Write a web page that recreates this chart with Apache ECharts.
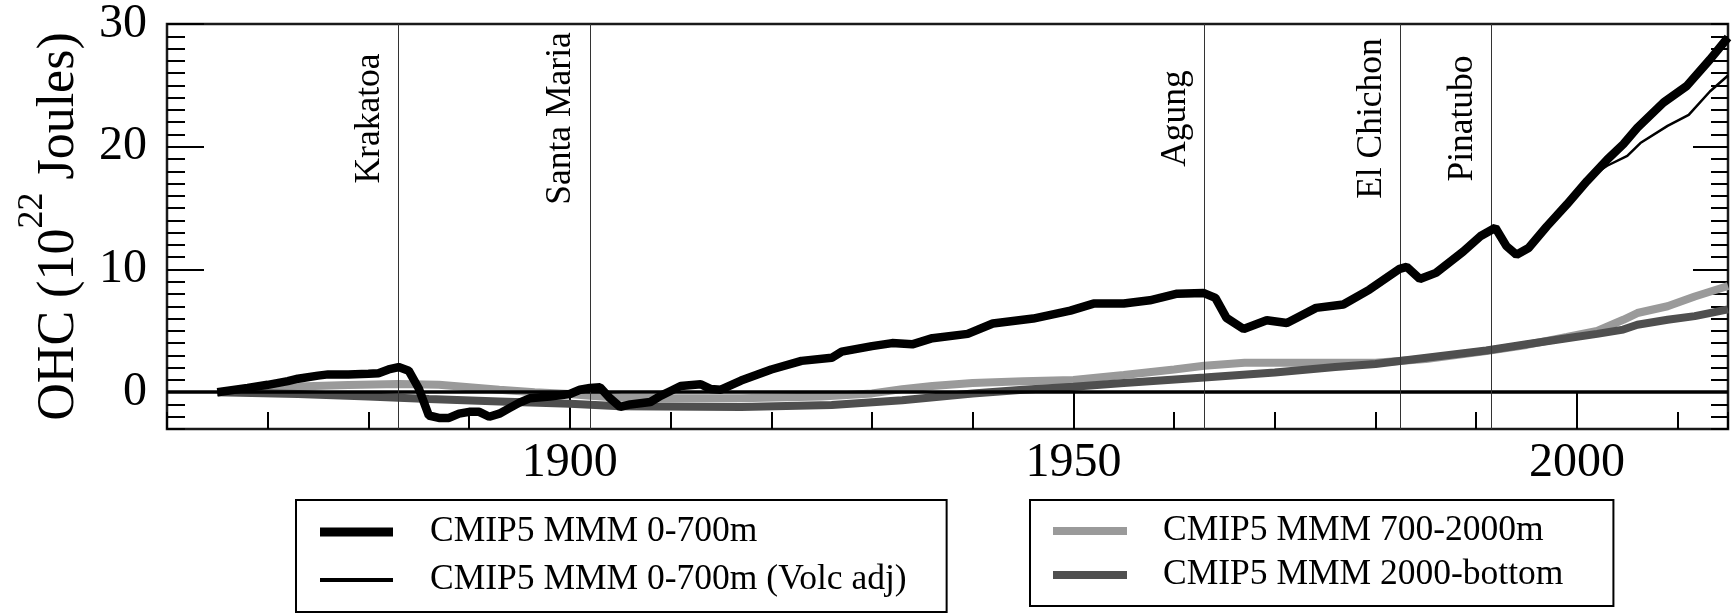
<!DOCTYPE html>
<html>
<head>
<meta charset="utf-8">
<script src="https://cdn.jsdelivr.net/npm/echarts@6/dist/echarts.min.js"></script>
<style>html,body{margin:0;padding:0;background:#fff;}#c{width:1735px;height:613px;}</style>
</head>
<body>
<div id="c"></div>
<script>
// ---- data ----
const seriesNames = ['CMIP5 MMM 0-700m', 'CMIP5 MMM 0-700m (Volc adj)', 'CMIP5 MMM 700-2000m', 'CMIP5 MMM 2000-bottom'];

const years700 = [1865,1868,1870,1872,1873,1875,1876,1878,1880,1881,1882,1883,1884,1885,1886,1887,1888,1889,1890,1891,1892,1893,1894,1895,1896,1898,1900,1901,1902,1903,1904,1905,1906,1908,1909,1910,1911,1913,1914,1915,1917,1920,1923,1926,1927,1930,1932,1934,1936,1939.5,1942,1946,1949.7,1952,1955,1957.6,1960.3,1962.9,1964.1,1965.2,1966.9,1969.2,1971.2,1974.1,1976.8,1979.4,1982.4,1983.1,1984.4,1986,1988.7,1990.4,1991.9,1993,1994,1995.2,1997,1999,2001,2003,2004.6,2006,2008.6,2010.9,2013.2,2015];
const values700 = [0,0.35,0.6,0.9,1.1,1.35,1.45,1.45,1.5,1.55,1.85,2.05,1.75,0.3,-1.9,-2.1,-2.1,-1.75,-1.6,-1.6,-2.0,-1.75,-1.3,-0.85,-0.5,-0.35,-0.15,0.2,0.35,0.4,-0.5,-1.2,-1.0,-0.8,-0.3,0.1,0.5,0.65,0.25,0.2,0.95,1.85,2.55,2.8,3.3,3.75,4.0,3.9,4.4,4.75,5.6,6.0,6.65,7.22,7.22,7.49,8.03,8.09,7.68,6.05,5.15,5.86,5.64,6.87,7.14,8.36,10.05,10.21,9.23,9.72,11.45,12.7,13.4,11.9,11.2,11.75,13.5,15.3,17.2,18.95,20.2,21.55,23.6,24.95,27.1,28.9];

const yearsVolc = [1865,1868,1870,1872,1873,1875,1876,1878,1880,1881,1882,1883,1884,1885,1886,1887,1888,1889,1890,1891,1892,1893,1894,1895,1896,1898,1900,1901,1902,1903,1904,1905,1906,1908,1909,1910,1911,1913,1914,1915,1917,1920,1923,1926,1927,1930,1932,1934,1936,1939.5,1942,1946,1949.7,1952,1955,1957.6,1960.3,1962.9,1964.1,1965.2,1966.9,1969.2,1971.2,1974.1,1976.8,1979.4,1982.4,1983.1,1984.4,1986,1988.7,1990.4,1991.9,1993,1994,1995.2,1997,1999,2001,2001.7,2003,2005,2006.3,2009,2011.1,2013.2,2015];
const valuesVolc = [0,0.35,0.6,0.9,1.1,1.35,1.45,1.45,1.5,1.55,1.85,2.05,1.75,0.3,-1.9,-2.1,-2.1,-1.75,-1.6,-1.6,-2.0,-1.75,-1.3,-0.85,-0.5,-0.35,-0.15,0.2,0.35,0.4,-0.5,-1.2,-1.0,-0.8,-0.3,0.1,0.5,0.65,0.25,0.2,0.95,1.85,2.55,2.8,3.3,3.75,4.0,3.9,4.4,4.75,5.6,6.0,6.65,7.22,7.22,7.49,8.03,8.09,7.68,6.05,5.15,5.86,5.64,6.87,7.14,8.36,10.05,10.21,9.23,9.72,11.45,12.7,13.4,11.9,11.2,11.75,13.5,15.3,17.2,17.75,18.45,19.25,20.3,21.7,22.6,24.5,25.8];

const years2000 = [1865,1870,1873,1878,1883,1887,1890,1893,1896.5,1900,1902,1905,1910,1917,1925,1930,1933,1936,1940,1945,1950,1955,1960,1963,1967,1971,1976,1980,1985,1991,1995,1999,2002,2004.6,2006,2009,2011.7,2015];
const values2000 = [0,0.3,0.47,0.58,0.67,0.6,0.4,0.2,0,-0.15,-0.3,-0.45,-0.5,-0.5,-0.35,-0.1,0.25,0.5,0.75,0.9,1.0,1.4,1.85,2.15,2.4,2.4,2.4,2.4,2.7,3.35,3.85,4.5,5.0,5.9,6.45,7.0,7.8,8.65];

const yearsBottom = [1865,1873,1880,1886,1893,1900,1905,1917,1926,1933,1940,1945,1950,1955,1963,1970,1976,1980,1982,1991,1995,1999,2002,2004.6,2006,2009,2011.7,2015];
const valuesBottom = [0,-0.15,-0.35,-0.55,-0.75,-0.95,-1.15,-1.2,-1.05,-0.65,-0.1,0.2,0.45,0.75,1.2,1.6,2.05,2.3,2.5,3.4,3.9,4.4,4.75,5.1,5.5,5.9,6.2,6.75];

const volcanoNames = ['Krakatoa', 'Santa Maria', 'Agung', 'El Chichon', 'Pinatubo'];
const volcanoYears = [1883, 1902, 1963, 1982.5, 1991.5];

const xTickLabels = [1900, 1950, 2000];
const yTickLabels = [0, 10, 20, 30];
const yMajorTicksRight = [10, 20];

// ---- layout / style ----
const FONT = 'Liberation Serif';
const LABEL_Y = 22.3;   // vertical centre of the volcano names, in axis units
const GRID = {left: 167, right: 7, top: 24, height: 405};
const ICON_THICK = 'path://M0,0M0,14M0,2.5H73V11.5H0Z';
const ICON_THIN = 'path://M0,0M0,14M0,5H73V9H0Z';
const ICON_GREY = 'path://M0,0M0,14M0,3H74V11H0Z';

function pairs(xs, ys) { return xs.map((x, i) => [x, ys[i]]); }
const noLine = {show: false, onZero: false};

const option = {
  animation: false,
  backgroundColor: '#fff',
  grid: [
    Object.assign({show: true, borderColor: '#1a1a1a', borderWidth: 2.5, backgroundColor: 'transparent'}, GRID),
    Object.assign({show: false}, GRID)
  ],
  xAxis: [
    {gridIndex: 0, type: 'value', min: 1860, max: 2015, interval: 10, position: 'bottom',
     axisLine: noLine, splitLine: {show: false}, axisLabel: {show: false},
     axisTick: {show: true, inside: true, length: 17, lineStyle: {color: '#000', width: 2}}},
    {gridIndex: 1, type: 'value', min: 1860, max: 2015, position: 'bottom',
     axisLine: noLine, splitLine: {show: false},
     axisTick: {show: true, inside: true, length: 36, customValues: xTickLabels, lineStyle: {color: '#000', width: 2}},
     axisLabel: {show: true, customValues: xTickLabels, formatter: v => String(v),
       fontFamily: FONT, fontSize: 48, color: '#000', margin: 10}}
  ],
  yAxis: [
    {gridIndex: 0, type: 'value', min: -3, max: 30, interval: 1, position: 'left',
     axisLine: noLine, splitLine: {show: false}, axisLabel: {show: false},
     axisTick: {show: true, inside: true, length: 18, lineStyle: {color: '#000', width: 2}}},
    {gridIndex: 0, type: 'value', min: -3, max: 30, interval: 1, position: 'right',
     axisLine: noLine, splitLine: {show: false}, axisLabel: {show: false},
     axisTick: {show: true, inside: true, length: 17, lineStyle: {color: '#000', width: 2}}},
    {gridIndex: 1, type: 'value', min: -3, max: 30, position: 'left',
     axisLine: noLine, splitLine: {show: false},
     axisTick: {show: true, inside: true, length: 37, customValues: yTickLabels, lineStyle: {color: '#000', width: 2}},
     axisLabel: {show: true, customValues: yTickLabels, formatter: v => String(v),
       fontFamily: FONT, fontSize: 48, color: '#000', margin: 20},
     name: '{m|OHC (10}{s|22}{m| Joules)}', nameLocation: 'middle', nameGap: 82, nameRotate: 90,
     nameTextStyle: {color: '#000', rich: {
       m: {fontFamily: FONT, fontSize: 52, color: '#000', padding: [18, 0, 0, 0], verticalAlign: 'bottom'},
       s: {fontFamily: FONT, fontSize: 36, color: '#000', verticalAlign: 'top'}
     }}},
    {gridIndex: 1, type: 'value', min: -3, max: 30, position: 'right',
     axisLine: noLine, splitLine: {show: false}, axisLabel: {show: false},
     axisTick: {show: true, inside: true, length: 35, customValues: yMajorTicksRight, lineStyle: {color: '#000', width: 2}}}
  ],
  legend: [
    {data: [{name: seriesNames[0], icon: ICON_THICK}, {name: seriesNames[1], icon: ICON_THIN}],
     orient: 'vertical', left: 296, top: 500,
     borderColor: '#000', borderWidth: 2, padding: [14, 40, 14, 24], itemGap: 12,
     itemWidth: 73, itemHeight: 14, selectedMode: false,
     textStyle: {fontFamily: FONT, fontSize: 35.5, lineHeight: 35, color: '#000', padding: [0, 0, 0, 32]}},
    {data: [{name: seriesNames[2], icon: ICON_GREY}, {name: seriesNames[3], icon: ICON_GREY}],
     orient: 'vertical', left: 1030, top: 500,
     borderColor: '#000', borderWidth: 2, padding: [13, 50, 13, 23], itemGap: 8,
     itemWidth: 74, itemHeight: 14, selectedMode: false,
     textStyle: {fontFamily: FONT, fontSize: 35.5, lineHeight: 35, color: '#000', padding: [0, 0, 0, 31]}}
  ],
  series: [
    {name: seriesNames[2], type: 'line', xAxisIndex: 0, yAxisIndex: 0, data: pairs(years2000, values2000),
     symbol: 'none', lineStyle: {color: '#9a9a9a', width: 8}, itemStyle: {color: '#9a9a9a'}, z: 2},
    {name: seriesNames[3], type: 'line', xAxisIndex: 0, yAxisIndex: 0, data: pairs(yearsBottom, valuesBottom),
     symbol: 'none', lineStyle: {color: '#4f4f4f', width: 8}, itemStyle: {color: '#4f4f4f'}, z: 3},
    {name: seriesNames[1], type: 'line', xAxisIndex: 0, yAxisIndex: 0, data: pairs(yearsVolc, valuesVolc),
     symbol: 'none', lineStyle: {color: '#000', width: 2.5}, itemStyle: {color: '#000'}, z: 4},
    {name: seriesNames[0], type: 'line', xAxisIndex: 0, yAxisIndex: 0, data: pairs(years700, values700),
     symbol: 'none', lineStyle: {color: '#000', width: 8.5}, itemStyle: {color: '#000'}, z: 5,
     markLine: {silent: true, symbol: 'none', animation: false,
       label: {show: false},
       data: [{yAxis: 0, lineStyle: {color: '#000', width: 3.5, type: 'solid'}}]
         .concat(volcanoYears.map(y => ({xAxis: y, lineStyle: {color: '#333', width: 1, type: 'solid'}})))}},
    {name: 'volcanoes', type: 'scatter', xAxisIndex: 0, yAxisIndex: 0, silent: true,
     symbolSize: 2, itemStyle: {color: 'rgba(0,0,0,0)'}, z: 6,
     data: volcanoNames.map((n, i) => ({name: n, value: [volcanoYears[i], LABEL_Y]})),
     label: {show: true, formatter: p => p.name, position: 'left', distance: 10, rotate: 90,
       align: 'center', verticalAlign: 'bottom', fontFamily: FONT, fontSize: 35.5,
       color: '#000', opacity: 1, textBorderWidth: 0}}
  ]
};

const chart = echarts.init(document.getElementById('c'), null, {renderer: 'canvas'});
chart.setOption(option);
</script>
</body>
</html>
